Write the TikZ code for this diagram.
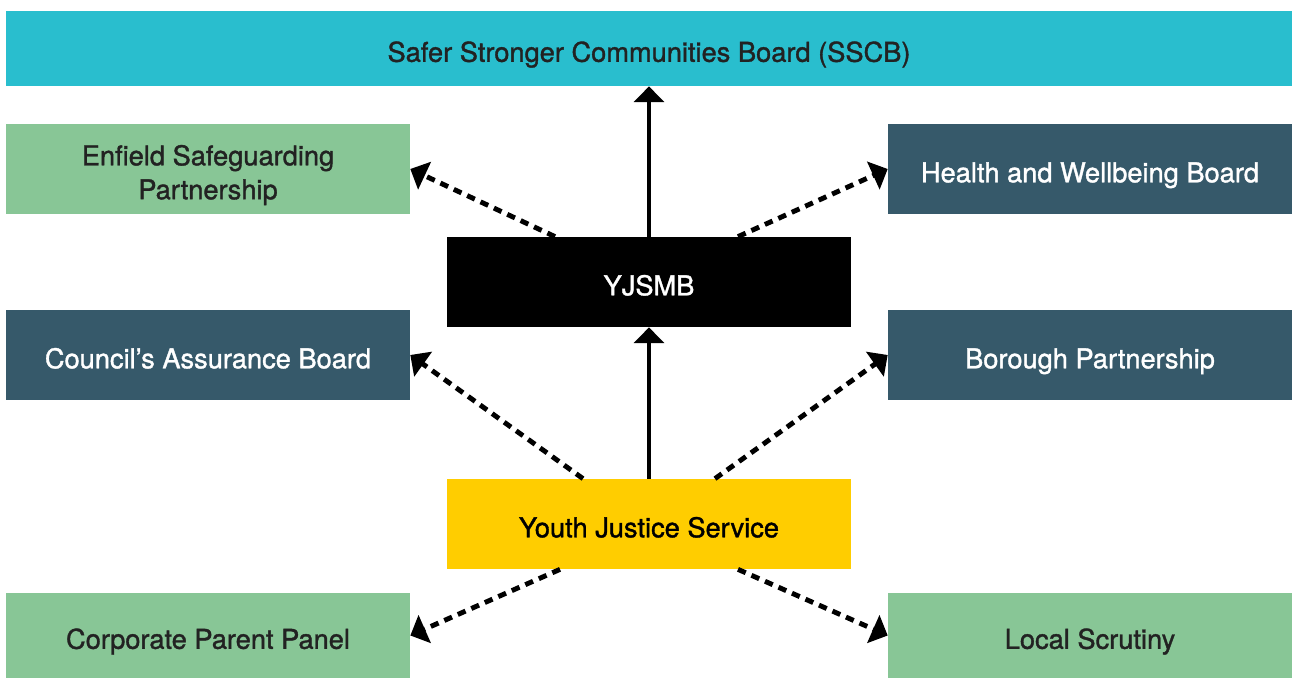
\documentclass[tikz,border=0pt]{standalone}
\usepackage{fontspec}
\setmainfont{TeX Gyre Heros}
\newfontfamily\boardfont{TeX Gyre Heros}[FakeBold=1.3]
\usetikzlibrary{arrows.meta}

\definecolor{sscbcyan}{HTML}{29BECE}
\definecolor{boardgreen}{HTML}{88C696}
\definecolor{boardslate}{HTML}{36596A}
\definecolor{yjsyellow}{HTML}{FFCD00}
\definecolor{inkgray}{HTML}{222222}

% text sits a little below the middle of each box
\newcommand{\boardtext}[1]{\raisebox{-0.13cm}[\height][\depth]{\begin{tabular}{@{}c@{}}#1\end{tabular}}}

\tikzset{
	board/.style={minimum width=8.08cm, minimum height=1.8cm, inner sep=0pt, font=\boardfont\fontsize{15.5}{19.3}\selectfont},
	reports/.style={line width=2.8pt, -{Triangle[length=9pt,width=17pt]}},
	links/.style={reports, dash pattern=on 4.8pt off 3.6pt},
}

\begin{document}
\begin{tikzpicture}[x=0.02cm, y=-0.02cm]
	\useasboundingbox (0,0) rectangle (1292,678);

	% top of the chain
	\node[board, minimum width=25.72cm, minimum height=1.5cm, fill=sscbcyan, text=inkgray] (sscb) at (649,48.5) {\boardtext{Safer Stronger Communities Board (SSCB)}};
	\node[board, fill=black, text=white] (yjsmb) at (649,282) {\boardtext{YJSMB}};
	\node[board, fill=yjsyellow, text=black] (yjs) at (649,524) {\boardtext{Youth Justice Service}};

	% boards on both sides
	\foreach \name/\x/\y/\fillc/\textc/\label in {
		esp/208/169/boardgreen/inkgray/{Enfield Safeguarding\\Partnership},
		hwb/1090/169/boardslate/white/{Health and Wellbeing Board},
		cab/208/355/boardslate/white/{Council’s Assurance Board},
		bp/1090/355/boardslate/white/{Borough Partnership}}
		\node[board, fill=\fillc, text=\textc] (\name) at (\x,\y) {\boardtext{\label}};
	\foreach \name/\x/\label in {cpp/208/{Corporate Parent Panel}, ls/1090/{Local Scrutiny}}
		\node[board, minimum height=1.7cm, fill=boardgreen, text=inkgray] (\name) at (\x,635.5) {\boardtext{\label}};

	% reporting lines
	\draw[reports] (yjsmb.north) -- (sscb.south);
	\draw[reports] (yjs.north) -- (yjsmb.south);

	\draw[links] ([xshift=-1.88cm]yjsmb.north) -- (esp.east);
	\draw[links] ([xshift=1.78cm]yjsmb.north) -- (hwb.west);
	\draw[links] ([xshift=-1.32cm]yjs.north) -- (cab.east);
	\draw[links] ([xshift=1.32cm]yjs.north) -- (bp.west);
	\draw[links] ([xshift=-1.78cm]yjs.south) -- (cpp.east);
	\draw[links] ([xshift=1.78cm]yjs.south) -- (ls.west);
\end{tikzpicture}
\end{document}
